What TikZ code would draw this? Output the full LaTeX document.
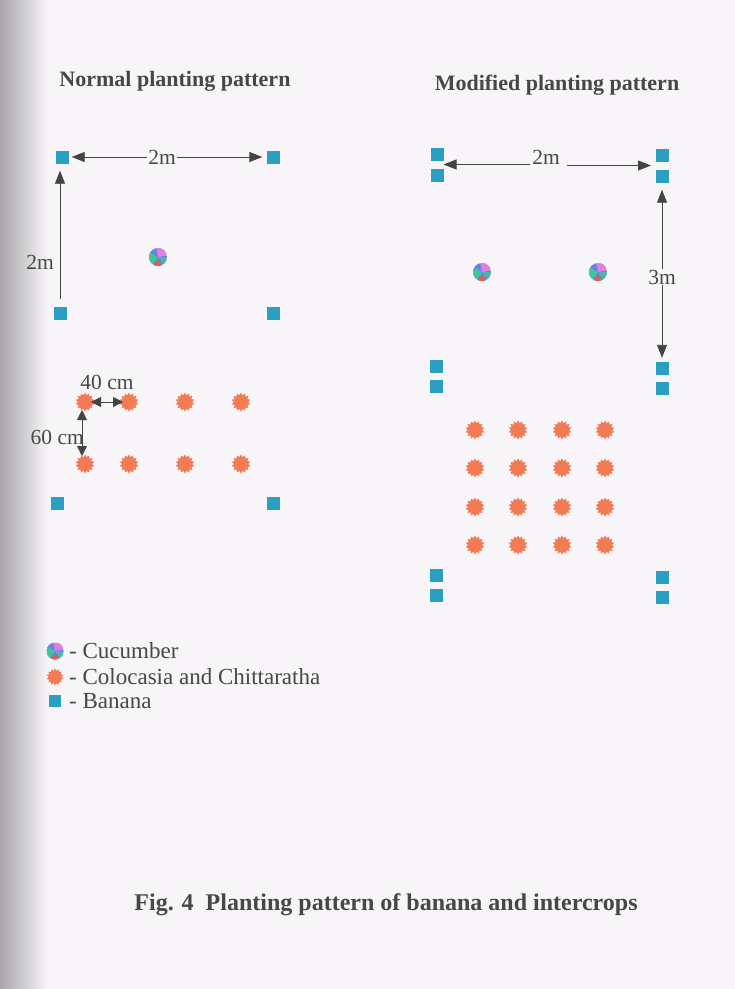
\documentclass[tikz,border=0pt]{standalone}
\usepackage{fontspec}
\setmainfont{Liberation Serif}
\usetikzlibrary{arrows.meta,shapes.geometric}
\definecolor{bgc}{HTML}{F7F5F7}
\definecolor{edge}{HTML}{A9A7AA}
\definecolor{ban}{HTML}{2A9FC2}
\definecolor{col}{HTML}{F27A55}
\definecolor{ink}{HTML}{474747}
\definecolor{arrc}{HTML}{444444}
\definecolor{cblue}{HTML}{6C80E4}
\definecolor{cgreen}{HTML}{3FC49C}
\definecolor{cpink}{HTML}{E07FE0}
\definecolor{cred}{HTML}{EE5A3A}
\begin{document}
\begin{tikzpicture}[x=1pt,y=-1pt,
  banana/.style={rectangle, fill=ban, minimum size=13pt, inner sep=0pt},
  colo/.style={star, star points=14, star point ratio=1.35, fill=col, minimum size=19pt, inner sep=0pt},
  cuc/.style={circle, minimum size=18pt, inner sep=0pt,
    path picture={
      \fill[cblue] (path picture bounding box.south west) rectangle (path picture bounding box.north east);
      \fill[cpink] (path picture bounding box.center) -- ++(10:10pt) arc[start angle=10, end angle=100, radius=10pt] -- cycle;
      \fill[cgreen] (path picture bounding box.center) -- ++(150:10pt) arc[start angle=150, end angle=235, radius=10pt] -- cycle;
      \fill[cred] (path picture bounding box.center) ++(0pt,-3pt) -- ++(235:8pt) arc[start angle=235, end angle=305, radius=8pt] -- cycle;
      \fill[cgreen!80!cblue] (path picture bounding box.center) -- ++(305:10pt) arc[start angle=305, end angle=360, radius=10pt] -- cycle;
    }},
  lbl/.style={text=ink, font=\fontsize{21.5}{24}\selectfont, inner sep=1pt},
  key/.style={text=ink, font=\fontsize{23}{26}\selectfont, inner sep=1pt, anchor=west},
  ttl/.style={text=ink, font=\fontsize{22}{26}\selectfont\bfseries, inner sep=0pt},
  dim/.style={draw=arrc, line width=0.9pt, -{Triangle[length=13pt,width=10pt]}},
  dimboth/.style={draw=arrc, line width=0.9pt, {Triangle[length=10pt,width=10pt]}-{Triangle[length=10pt,width=10pt]}},
]
% page
\useasboundingbox (0,0) rectangle (735,989);
\fill[bgc] (0,0) rectangle (735,989);
\shade[left color=edge, right color=bgc] (0,0) rectangle (48,989);

% titles
\node[ttl] (t1) at (175,81) {Normal planting pattern};
\node[ttl] (t2) at (557,85) {Modified planting pattern};

% ---------- normal pattern ----------
\node[banana] (a1) at (62,157) {};
\node[banana] (a2) at (273,157) {};
\node[banana] (a3) at (60,313) {};
\node[banana] (a4) at (273,313) {};
\node[banana] (a5) at (57,503) {};
\node[banana] (a6) at (273,503) {};
\node[cuc] (c1) at (158,257) {};

\node[lbl] (l1) at (162,157) {2m};
\draw[dim, shorten >=3pt] (l1.west) -- (a1.east);
\draw[dim, shorten >=4pt] (l1.east) -- (a2.west);
\draw[dim, {Triangle[length=13pt,width=10pt]}-, shorten <=7pt, shorten >=7pt] (a3.north |- a1.south) -- (a3.north);
\node[lbl, anchor=east] (l2m) at (55,262) {2m};

\foreach \x [count=\i] in {85,129,185,241} {
  \node[colo] (s1\i) at (\x,402) {};
  \node[colo] (s2\i) at (\x,464) {};
}
\draw[dimboth, shorten <=6pt, shorten >=6pt] (s11.center) -- (s12.center);
\node[lbl] (l40) at (107,382) {40 cm};
\draw[dimboth, shorten <=8pt, shorten >=8pt] ([xshift=-3pt]s11.center) -- ([xshift=-3pt]s21.center);
\node[lbl, anchor=east] (l60) at (85,437) {60 cm};

% ---------- modified pattern ----------
\node[banana] (b1) at (437,154) {};
\node[banana] (b2) at (437,175) {};
\node[banana] (b3) at (662,155) {};
\node[banana] (b4) at (662,176) {};
\node[banana] (b5) at (436,366) {};
\node[banana] (b6) at (436,386) {};
\node[banana] (b7) at (662,368) {};
\node[banana] (b8) at (662,388) {};
\node[banana] (b9) at (436,575) {};
\node[banana] (b10) at (436,595) {};
\node[banana] (b11) at (662,577) {};
\node[banana] (b12) at (662,597) {};
\node[cuc] (c2) at (482,272) {};
\node[cuc] (c3) at (598,272) {};

\path (b1) -- (b2) coordinate[pos=.5] (p12);
\path (b3) -- (b4) coordinate[pos=.5] (p34);
\node[lbl] (r2m) at (546,157) {2m};
\draw[dim] ([xshift=-1pt]r2m.west |- p12) -- ([xshift=6.5pt]p12);
\draw[dim] ([xshift=6pt]r2m.east |- p34) -- ([xshift=-11pt]p34);

\node[lbl] (r3m) at (662,277) {3m};
\draw[dim, shorten >=7pt] (r3m.north) -- (b4.south);
\draw[dim, shorten >=3.5pt] (r3m.south) -- (b7.north);

\foreach \y [count=\j] in {430,468,507,545} {
  \foreach \x [count=\i] in {475,518,562,605} {
    \node[colo] (m\j\i) at (\x,\y) {};
  }
}

% ---------- legend ----------
\node[cuc, minimum size=17pt] (kc) at (55,651) {};
\node[key] (kct) at (68,651) {- Cucumber};
\node[colo, minimum size=17pt] (ks) at (55,677) {};
\node[key] (kst) at (68,677) {- Colocasia and Chittaratha};
\node[banana, minimum size=12pt] (kb) at (55,701) {};
\node[key] (kbt) at (68,701) {- Banana};

% caption
\node[ttl, font=\fontsize{24}{28}\selectfont\bfseries] (cap) at (386,905) {Fig. 4\ \ Planting pattern of banana and intercrops};
\end{tikzpicture}
\end{document}
